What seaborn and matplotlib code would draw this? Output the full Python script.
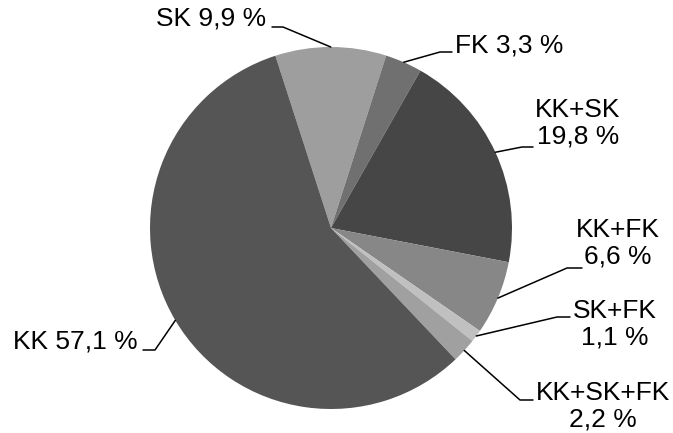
import numpy as np
import matplotlib
matplotlib.use("Agg")
import matplotlib.pyplot as plt
import seaborn as sns

# shares of answers (percent), clockwise from the top
categories = ["SK", "FK", "KK+SK", "KK+FK", "SK+FK", "KK+SK+FK", "KK"]
shares = [9.9, 3.3, 19.8, 6.6, 1.1, 2.2, 57.1]
labels = ["SK 9,9 %", "FK 3,3 %", "KK+SK\n19,8 %", "KK+FK\n6,6 %",
          "SK+FK\n1,1 %", "KK+SK+FK\n2,2 %", "KK 57,1 %"]
colors = ["#9e9e9e", "#707070", "#464646", "#878787", "#c0c0c0", "#a0a0a0", "#555555"]

sns.set_style("white")
plt.rcParams["font.family"] = ["Liberation Sans", "DejaVu Sans"]

W, H = 673, 433
cx, cy, R = 331, 228, 181  # pie centre and radius in pixels

fig = plt.figure(figsize=(W / 100, H / 100), dpi=100)
ax = fig.add_axes([(cx - R) / W, (H - cy - R) / H, 2 * R / W, 2 * R / H])

start = 107.9
wedges, _ = ax.pie(shares, colors=colors, startangle=start, counterclock=False,
                   radius=1, wedgeprops=dict(linewidth=0))
ax.set_xlim(-1, 1)
ax.set_ylim(-1, 1)
ax.axis("off")


def px(x, y):
    # pixel (from top-left) -> data units
    return (x - cx) / R, (cy - y) / R


# label layout: text pos (px), ha, elbow (px), line end (px)
layout = [
    ((266, 18), "right", (283, 27), (272, 27)),
    ((455, 45), "left", (440, 52), (452, 52)),
    ((578, 123), "center", (522, 147), (533, 147)),
    ((618, 243), "center", (567, 268), (582, 268)),
    ((615, 324), "center", (557, 317), (570, 317)),
    ((603, 406), "center", (520, 400), (533, 400)),
    ((138, 342), "right", (155, 350), (143, 350)),
]

for w, lab, (tpos, ha, elbow, end) in zip(wedges, labels, layout):
    # leader starts at the middle of the wedge's arc
    a = np.deg2rad((w.theta1 + w.theta2) / 2)
    ax0, ay0 = np.cos(a), np.sin(a)
    ex, ey = px(*elbow)
    fx, fy = px(*end)
    ax.plot([ax0, ex, fx], [ay0, ey, fy], color="black", lw=1.1, clip_on=False)
    tx, ty = px(*tpos)
    ax.text(tx, ty, lab, ha=ha, va="center", fontsize=19, color="black",
            linespacing=1.15, multialignment="center")

fig.savefig("out.png", dpi=100)
